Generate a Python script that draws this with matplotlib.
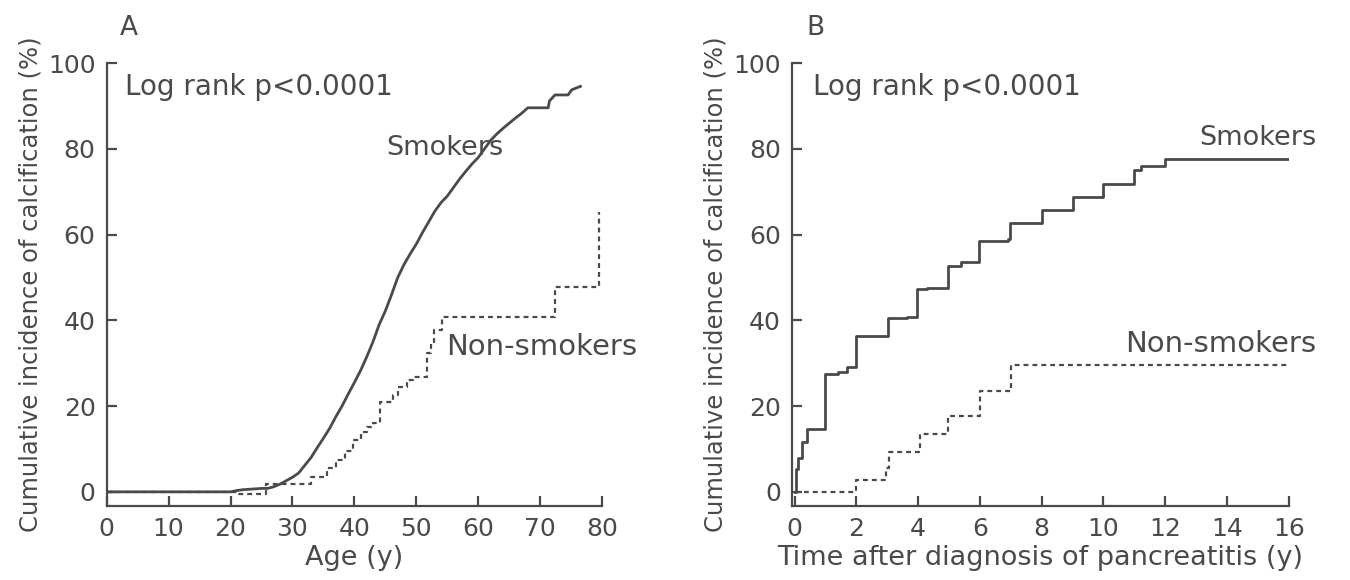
import numpy as np
import matplotlib.pyplot as plt

# Panel A: cumulative incidence by age
age_smokers = [0, 20, 21, 22, 23, 24, 25, 26, 27, 28, 29, 30, 31, 32, 33, 34, 35, 36, 37,
               38, 39, 40, 41, 42, 43, 44, 45, 46, 47, 48, 49, 50, 51, 52, 53, 54, 55,
               56, 57, 58, 59, 60, 61, 62, 63, 64, 65, 66, 67, 68, 71.3, 71.5, 72.4,
               74.5, 75.1, 76.5]
inc_smokers_a = [0, 0, 0.3, 0.5, 0.6, 0.7, 0.8, 0.8, 1.2, 1.8, 2.6, 3.4, 4.4, 6.2, 8.0,
                 10.3, 12.5, 14.8, 17.5, 20.0, 22.8, 25.5, 28.3, 31.5, 35.0, 39.0, 42.2,
                 46.0, 50.0, 53.0, 55.5, 57.8, 60.5, 63.0, 65.5, 67.5, 69.0, 71.0, 73.0,
                 74.8, 76.5, 78.0, 80.0, 82.0, 83.5, 84.8, 86.0, 87.2, 88.3, 89.6, 89.6,
                 91.2, 92.6, 92.6, 93.8, 94.6]

age_nonsmokers = [0, 21.0, 25.8, 33.0, 35.5, 37.0, 38.5, 39.8, 41.0, 42.0, 43.0, 44.1,
                  46.2, 47.0, 48.5, 49.5, 51.7, 52.3, 52.8, 54.1, 72.4, 79.5]
inc_nonsmokers_a = [0, -0.5, 1.9, 3.5, 5.5, 7.5, 9.5, 12.0, 14.0, 15.2, 16.0, 21.0,
                    22.5, 24.5, 26.0, 26.8, 32.3, 35.0, 37.7, 40.9, 47.9, 65.4]

# Panel B: cumulative incidence by time after diagnosis
time_smokers = [0, 0.05, 0.1, 0.25, 0.42, 0.99, 1.4, 1.71, 2.0, 3.02, 3.65, 3.97, 4.3,
                4.96, 5.4, 5.96, 6.9, 6.98, 8.0, 9.0, 10.0, 11.0, 11.2, 12.0, 16.0]
inc_smokers_b = [0, 5.4, 7.8, 11.6, 14.7, 27.5, 27.9, 29.1, 36.4, 40.5, 40.7, 47.4, 47.6,
                 52.6, 53.7, 58.5, 59.1, 62.8, 65.7, 68.8, 71.9, 75.2, 76.1, 77.7, 77.7]

time_nonsmokers = [0, 2.0, 2.97, 3.05, 4.07, 4.97, 6.0, 7.0, 16.0]
inc_nonsmokers_b = [0, 2.7, 5.5, 9.3, 13.6, 17.8, 23.6, 29.5, 29.5]

ink = '#4a4a4a'
plt.rcParams['font.family'] = ['DejaVu Sans']
plt.rcParams['text.color'] = ink
plt.rcParams['axes.labelcolor'] = ink
plt.rcParams['xtick.color'] = ink
plt.rcParams['ytick.color'] = ink

fig = plt.figure(figsize=(13.5, 5.8), dpi=100)
ax_a = fig.add_axes([0.079, 0.1276, 0.367, 0.7634])
ax_b = fig.add_axes([0.5867, 0.1276, 0.368, 0.7634])

dash = (0, (2.2, 1.8))

ax_a.plot(age_smokers, inc_smokers_a, color=ink, lw=2)
ax_a.plot(age_nonsmokers, inc_nonsmokers_a, color=ink, lw=1.6, ls=dash,
          drawstyle='steps-post')
ax_b.plot(time_smokers, inc_smokers_b, color=ink, lw=2, drawstyle='steps-post')
ax_b.plot(time_nonsmokers, inc_nonsmokers_b, color=ink, lw=1.6, ls=dash,
          drawstyle='steps-post')

for ax in (ax_a, ax_b):
    for side in ('top', 'right'):
        ax.spines[side].set_visible(False)
    for side in ('left', 'bottom'):
        ax.spines[side].set_color(ink)
        ax.spines[side].set_linewidth(1.6)
    ax.set_ylim(-3.3, 100)
    ax.set_yticks(np.arange(0, 101, 20))
    ax.tick_params(direction='in', length=7, width=1.6, labelsize=18, pad=8)
    ax.set_ylabel('Cumulative incidence of calcification (%)', fontsize=17.5, labelpad=4)

ax_a.set_xlim(0, 80)
ax_a.set_xticks(np.arange(0, 81, 10))
ax_a.set_xlabel('Age (y)', fontsize=19.5, labelpad=3)
ax_b.set_xlim(-0.08, 16)
ax_b.set_xticks(np.arange(0, 17, 2))
ax_b.set_xlabel('Time after diagnosis of pancreatitis (y)', fontsize=19.5, labelpad=3)

ax_a.text(2.9, 92.5, 'Log rank p<0.0001', fontsize=20)
ax_a.text(45.2, 78.6, 'Smokers', fontsize=19.5)
ax_a.text(54.8, 31.9, 'Non-smokers', fontsize=21, clip_on=False)
ax_b.text(0.59, 92.5, 'Log rank p<0.0001', fontsize=20)
ax_b.text(16.9, 80.9, 'Smokers', fontsize=19.5, ha='right', clip_on=False)
ax_b.text(16.9, 32.6, 'Non-smokers', fontsize=21, ha='right', clip_on=False)

fig.text(0.089, 0.952, 'A', fontsize=19, va='center')
fig.text(0.597, 0.952, 'B', fontsize=19, va='center')

fig.savefig('out.png', dpi=100)
